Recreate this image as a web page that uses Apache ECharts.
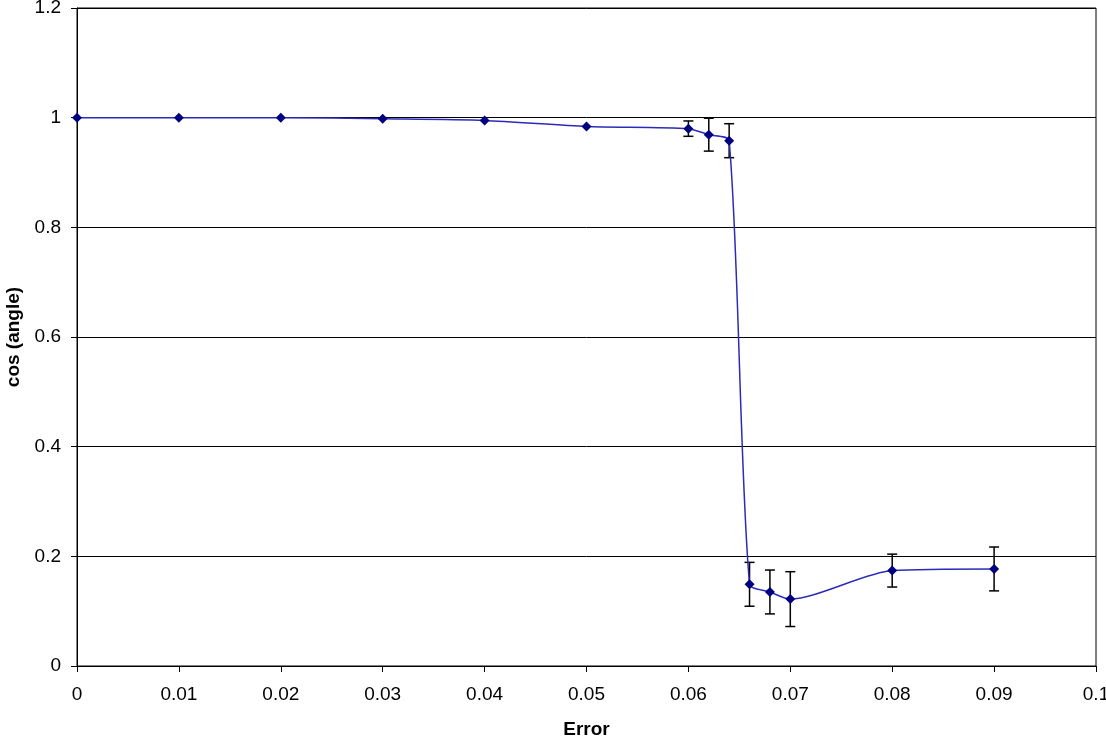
<!DOCTYPE html>
<html>
<head>
<meta charset="utf-8">
<script src="https://cdn.jsdelivr.net/npm/echarts@6/dist/echarts.min.js"></script>
<style>
html,body{margin:0;padding:0;background:#fff;}
#chart{width:1106px;height:738px;}
</style>
</head>
<body>
<div id="chart"></div>
<script>
// Data
const errorValues = [0, 0.01, 0.02, 0.03, 0.04, 0.05, 0.06, 0.062, 0.064, 0.066, 0.068, 0.07, 0.08, 0.09];
const cosValues   = [1.0, 1.0, 1.0, 0.998, 0.995, 0.984, 0.980, 0.969, 0.958, 0.149, 0.135, 0.122, 0.174, 0.177];
const errBars     = [null, null, null, null, null, null, 0.014, 0.030, 0.031, 0.040, 0.040, 0.050, 0.030, 0.040];
const xTicks = { min: 0, max: 0.1, step: 0.01 };
const yTicks = { min: 0, max: 1.2, step: 0.2 };
const xAxisTitle = 'Error';
const yAxisTitle = 'cos (angle)';

const lineData = errorValues.map((x, i) => [x, cosValues[i]]);
const errData = [];
errorValues.forEach((x, i) => { if (errBars[i] != null) errData.push([x, cosValues[i], errBars[i]]); });

const chart = echarts.init(document.getElementById('chart'));
const font = 'Liberation Sans, Arial, sans-serif';
chart.setOption({
  animation: false,
  backgroundColor: '#ffffff',
  grid: { left: 77, right: 10, top: 8, bottom: 72, show: true, borderColor: '#000', borderWidth: 1,
          containLabel: false, outerBoundsMode: 'none' },
  xAxis: {
    type: 'value', min: xTicks.min, max: xTicks.max, interval: xTicks.step,
    name: xAxisTitle, nameLocation: 'middle', nameGap: 54,
    nameTextStyle: { fontFamily: font, fontSize: 19, fontWeight: 'bold', color: '#000' },
    axisLine: { show: true, lineStyle: { color: '#000', width: 1 } },
    axisTick: { show: true, inside: false, length: 6, lineStyle: { color: '#000' } },
    axisLabel: { fontFamily: font, fontSize: 19, color: '#000', margin: 19,
      formatter: v => String(+v.toFixed(2)) },
    splitLine: { show: false }
  },
  yAxis: {
    type: 'value', min: yTicks.min, max: yTicks.max, interval: yTicks.step,
    name: yAxisTitle, nameLocation: 'middle', nameGap: 52, nameRotate: 90,
    nameTextStyle: { fontFamily: font, fontSize: 19, fontWeight: 'bold', color: '#000' },
    axisLine: { show: true, lineStyle: { color: '#000', width: 1 } },
    axisTick: { show: true, inside: false, length: 6, lineStyle: { color: '#000' } },
    axisLabel: { fontFamily: font, fontSize: 19, color: '#000', margin: 16,
      formatter: v => String(+v.toFixed(1)) },
    splitLine: { show: true, lineStyle: { color: '#000', width: 1 } }
  },
  series: [
    {
      type: 'custom', z: 1,
      data: errData,
      renderItem: function (params, api) {
        const x = api.value(0), y = api.value(1), e = api.value(2);
        const hi = api.coord([x, y + e]);
        const lo = api.coord([x, y - e]);
        const w = 5;
        const style = { stroke: '#000', lineWidth: 1.5, fill: null };
        return { type: 'group', children: [
          { type: 'line', shape: { x1: hi[0], y1: hi[1], x2: lo[0], y2: lo[1] }, style: style },
          { type: 'line', shape: { x1: hi[0] - w, y1: hi[1], x2: hi[0] + w, y2: hi[1] }, style: style },
          { type: 'line', shape: { x1: lo[0] - w, y1: lo[1], x2: lo[0] + w, y2: lo[1] }, style: style }
        ]};
      }
    },
    {
      type: 'line', z: 3,
      data: lineData,
      smooth: 0.25,
      symbol: 'diamond', symbolSize: 10, showSymbol: true,
      lineStyle: { color: '#2b2bb8', width: 1.5 },
      itemStyle: { color: '#000080', borderWidth: 0 }
    }
  ]
});
</script>
</body>
</html>
